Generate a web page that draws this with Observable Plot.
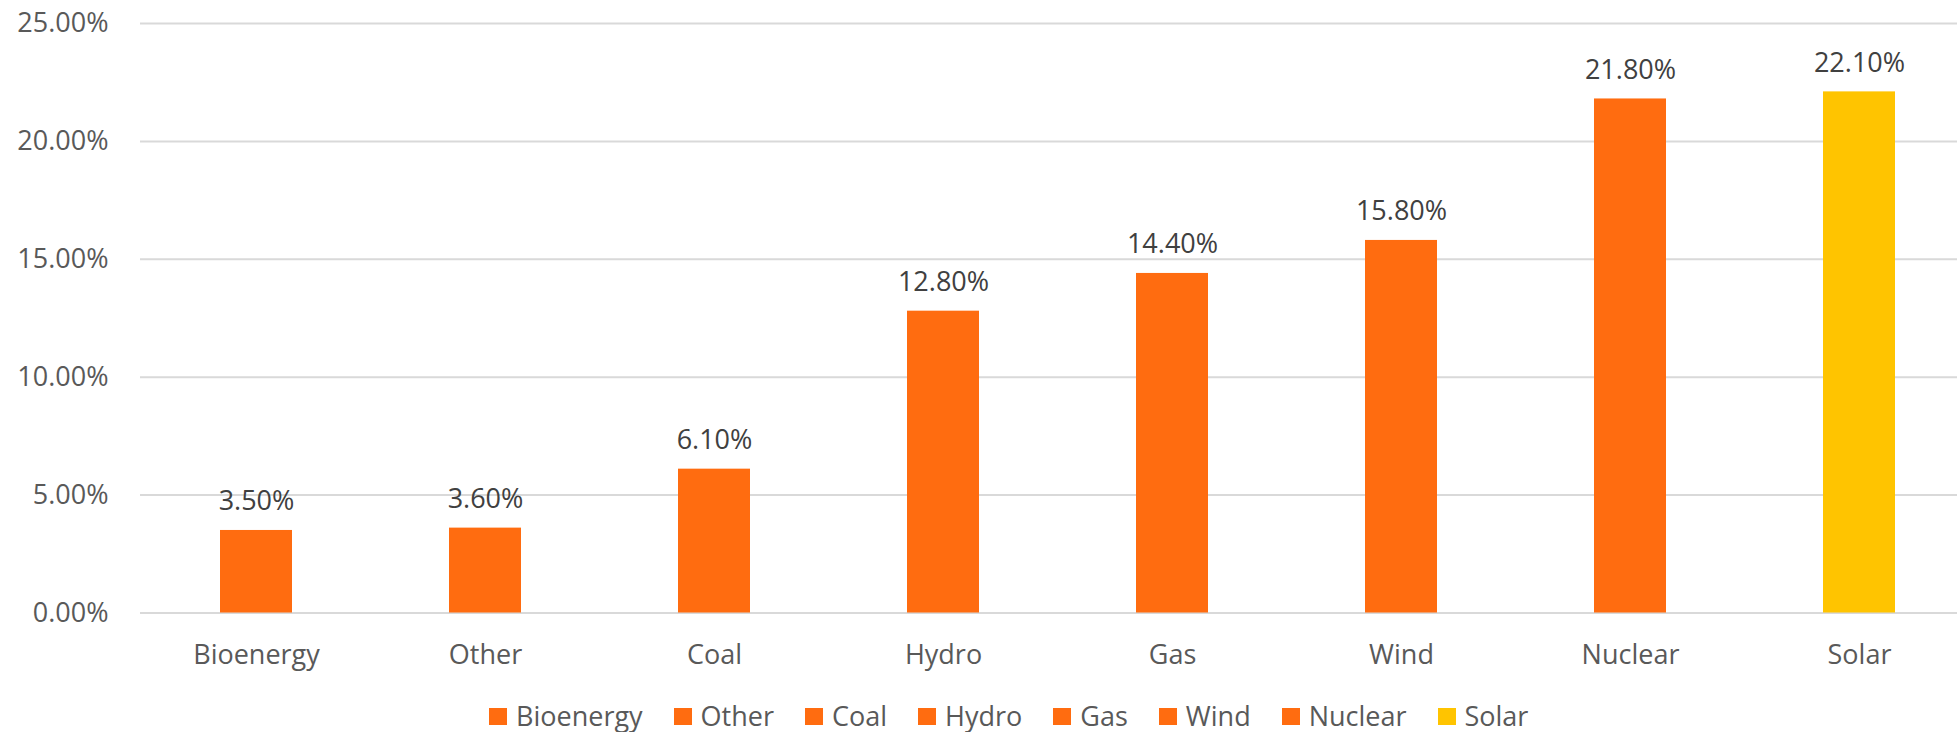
<!DOCTYPE html>
<html>
<head>
<meta charset="utf-8">
<script src="https://cdn.jsdelivr.net/npm/d3@7"></script>
<script src="https://cdn.jsdelivr.net/npm/@observablehq/plot@0.6"></script>
<style>
  html, body { margin: 0; padding: 0; background: #fff; overflow: hidden; }
  body { font-family: "Open Sans", sans-serif; width: 1957px; height: 732px; }
  #legend {
    display: flex; align-items: center; height: 32px; line-height: 32px;
    padding-left: 489px; font-size: 27px; color: #595959; white-space: nowrap;
  }
  #legend .item { display: inline-flex; align-items: center; margin-right: 31px; }
  #legend .sw { width: 18px; height: 17px; margin-right: 9px; display: inline-block; }
</style>
</head>
<body>
<div id="chart"></div>
<div id="legend"></div>
<script>
const categories = ["Bioenergy", "Other", "Coal", "Hydro", "Gas", "Wind", "Nuclear", "Solar"];
const values = [3.5, 3.6, 6.1, 12.8, 14.4, 15.8, 21.8, 22.1];
const colors = ["#FF6C10", "#FF6C10", "#FF6C10", "#FF6C10", "#FF6C10", "#FF6C10", "#FF6C10", "#FFC400"];
const yTicks = [0, 5, 10, 15, 20, 25];
const fmt = d => d.toFixed(2) + "%";

const data = categories.map((c, i) => ({category: c, value: values[i]}));

const plot = Plot.plot({
  width: 1957,
  height: 700,
  marginLeft: 140,
  marginRight: 0,
  marginTop: 23,
  marginBottom: 87.5,
  style: {fontFamily: "Open Sans", fontSize: "27px", background: "white", overflow: "hidden"},
  x: {domain: categories, range: [140, 1975], paddingInner: 0.686, paddingOuter: 0.343, label: null},
  y: {domain: [0, 25], label: null},
  color: {domain: categories, range: colors},
  marks: [
    Plot.gridY(yTicks, {stroke: "#d9d9d9", strokeOpacity: 1, strokeWidth: 2}),
    Plot.axisY({ticks: yTicks, tickFormat: fmt, tickSize: 0, tickPadding: 32, fill: "#595959", label: null}),
    Plot.axisX({tickSize: 0, tickPadding: 32, fill: "#595959", label: null}),
    Plot.barY(data, {x: "category", y: "value", fill: "category"}),
    Plot.text(data, {x: "category", y: "value", text: d => fmt(d.value), dy: -29, fill: "#404040", fontSize: 27})
  ]
});
document.getElementById("chart").appendChild(plot);

const legend = d3.select("#legend");
const items = legend.selectAll(".item").data(categories).join("span").attr("class", "item");
items.append("span").attr("class", "sw").style("background", (d, i) => colors[i]);
items.append("span").text(d => d);
</script>
</body>
</html>
